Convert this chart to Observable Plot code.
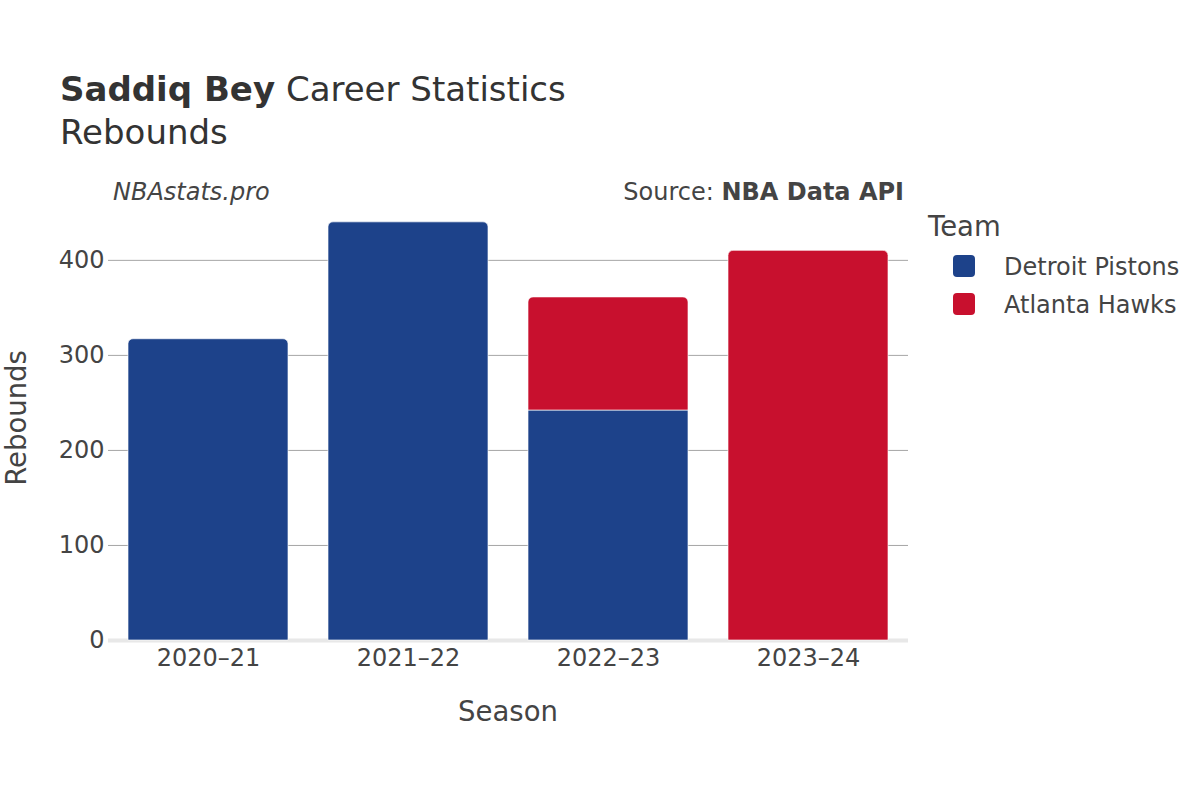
<!DOCTYPE html>
<html>
<head>
<meta charset="utf-8">
<script src="https://cdn.jsdelivr.net/npm/d3@7"></script>
<script src="https://cdn.jsdelivr.net/npm/@observablehq/plot@0.6"></script>
<style>
  body { margin: 0; background: #fff; }
  #wrap { position: relative; width: 1200px; height: 800px; font-family: "DejaVu Sans", sans-serif; }
  #wrap > svg { position: absolute; left: 0; top: 0; }
</style>
</head>
<body>
<div id="wrap"></div>
<script>
const seasons = ["2020–21", "2021–22", "2022–23", "2023–24"];
const teams = ["Detroit Pistons", "Atlanta Hawks"];
const teamColors = ["#1d428a", "#c8102e"];
const detroitRebounds = [317, 440, 242, 0];
const atlantaRebounds = [0, 0, 119, 410];
const yTicks = [0, 100, 200, 300, 400];

// stacked segments: Detroit at the bottom, Atlanta on top
const rows = [];
seasons.forEach((s, i) => {
  let base = 0;
  const segs = [];
  [detroitRebounds[i], atlantaRebounds[i]].forEach((v, k) => {
    if (v > 0) { segs.push({season: s, team: teams[k], y1: base, y2: base + v}); base += v; }
  });
  segs.forEach((r, k) => { r.isTop = k === segs.length - 1; rows.push(r); });
});

const font = '"DejaVu Sans", sans-serif';
const plot = Plot.plot({
  width: 1200,
  height: 800,
  marginLeft: 108,
  marginRight: 292,
  marginTop: 200,
  marginBottom: 160,
  style: { fontFamily: font, color: "#444", background: "transparent" },
  x: { domain: seasons, paddingInner: 0.2, paddingOuter: 0.1, label: null },
  y: { domain: [0, 463], label: null },
  color: { domain: teams, range: teamColors },
  marks: [
    Plot.ruleY(yTicks.filter(d => d > 0), { stroke: "#a6a6a6", strokeWidth: 1 }),
    Plot.ruleY([0], { stroke: "#e8e8e8", strokeWidth: 4 }),
    Plot.barY(rows.filter(d => !d.isTop), {
      x: "season", y1: "y1", y2: "y2", fill: "team",
      stroke: "#fff", strokeWidth: 0.8, strokeOpacity: 0.8
    }),
    Plot.barY(rows.filter(d => d.isTop), {
      x: "season", y1: "y1", y2: "y2", fill: "team",
      stroke: "#fff", strokeWidth: 0.8, strokeOpacity: 0.8, ry1: 5, rx: 5
    }),
    Plot.axisY({ ticks: yTicks, tickSize: 0, tickPadding: 4, fontSize: 24, fill: "#444", label: null }),
    Plot.axisX({ tickSize: 0, tickPadding: 8, fontSize: 24, fill: "#444", label: null })
  ]
});
const wrap = document.getElementById("wrap");
wrap.appendChild(plot);

// overlay texts and legend
const ns = "http://www.w3.org/2000/svg";
const ov = document.createElementNS(ns, "svg");
ov.setAttribute("width", 1200);
ov.setAttribute("height", 800);
ov.style.fontFamily = font;
ov.style.pointerEvents = "none";
ov.innerHTML = `
  <text x="60" y="101" font-size="34" fill="#333">
    <tspan font-weight="bold">Saddiq Bey</tspan> Career Statistics</text>
  <text x="60" y="144" font-size="34" fill="#333">Rebounds</text>
  <text x="113" y="200" font-size="24" font-style="italic" fill="#444">NBAstats.pro</text>
  <text x="904" y="200" font-size="24" text-anchor="end" fill="#444">Source: <tspan font-weight="bold">NBA Data API</tspan></text>
  <text x="508" y="721" font-size="27.5" text-anchor="middle" fill="#444">Season</text>
  <text transform="translate(26,418) rotate(-90)" font-size="27.5" text-anchor="middle" fill="#444">Rebounds</text>
  <text x="928" y="236" font-size="27.5" fill="#444">Team</text>
`;
teams.forEach((t, i) => {
  const y = 266 + i * 38;
  const r = document.createElementNS(ns, "rect");
  r.setAttribute("x", 953); r.setAttribute("y", y - 11);
  r.setAttribute("width", 22); r.setAttribute("height", 22);
  r.setAttribute("rx", 4); r.setAttribute("fill", teamColors[i]);
  ov.appendChild(r);
  const tx = document.createElementNS(ns, "text");
  tx.setAttribute("x", 1004); tx.setAttribute("y", y + 8.5);
  tx.setAttribute("font-size", 24); tx.setAttribute("fill", "#444");
  tx.textContent = t;
  ov.appendChild(tx);
});
wrap.appendChild(ov);
</script>
</body>
</html>
